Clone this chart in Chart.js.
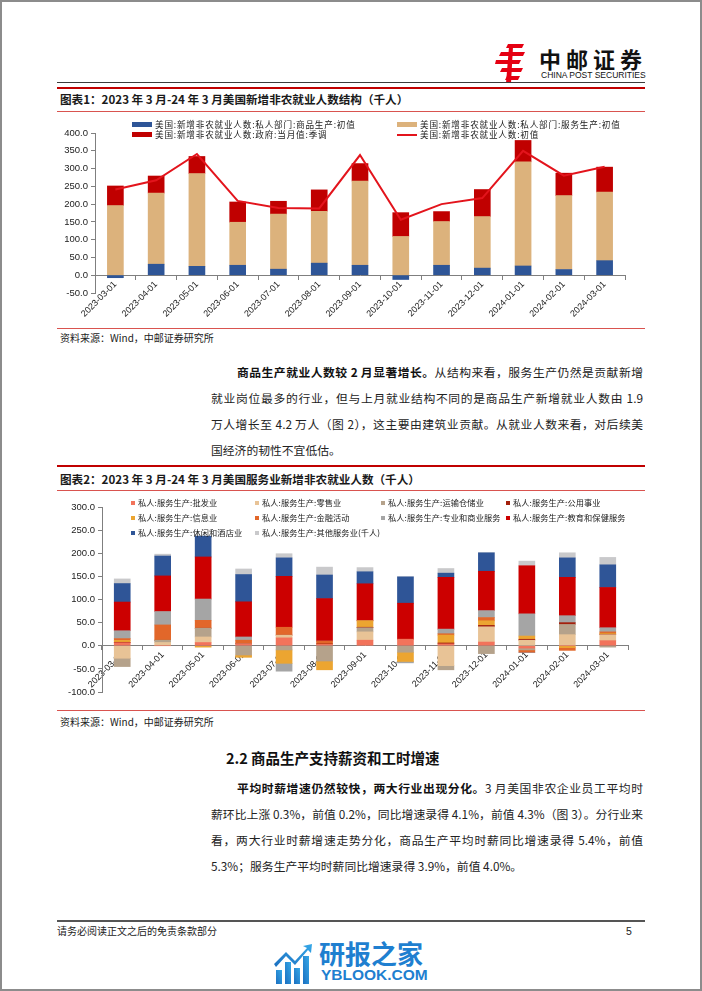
<!DOCTYPE html>
<html>
<head>
<meta charset="utf-8">
<title>美国新增非农就业人数结构</title>
<script src="https://cdn.jsdelivr.net/npm/chart.js"></script>
<style>
html, body { margin: 0; padding: 0; background: #fff; }
body { width: 702px; height: 991px; position: relative; overflow: hidden;
  font-family: "Noto Sans CJK SC", sans-serif; color: #1a1a1a; }
.frame { position: absolute; left: 0; top: 0; width: 698px; height: 987px; border: 2px solid #8c8c8c; pointer-events: none; }
.abs { position: absolute; white-space: nowrap; }
.hline { position: absolute; left: 57px; width: 588px; }
.title { left: 60px; font-size: 11.6px; font-weight: 700; line-height: 14px; }
.source { left: 60px; font-size: 10px; line-height: 12px; color: #222; }
.para { position: absolute; left: 211px; width: 432px; font-size: 11.8px; color: #222; }
.para div { height: 26px; line-height: 26px; white-space: nowrap; text-align: justify; text-align-last: justify; }
.para div.last { text-align-last: left; }
.para div.first { padding-left: 26px; }
.para b { font-weight: 700; color: #111; }
.chartbox { position: absolute; left: 57px; }
.legend { position: absolute; left: 0; top: 0; width: 702px; height: 0; }
.legend .item { position: absolute; line-height: 10px; white-space: nowrap; color: #222; }
#legend1 .item { font-size: 8.6px; letter-spacing: 0.8px; }
#legend2 .item { font-size: 8.2px; letter-spacing: 0.1px; }
.legend .mark { display: inline-block; vertical-align: middle; margin-right: 3px; position: relative; top: -1px; }
</style>
</head>
<body>

<!-- header -->
<svg class="abs" style="left:495px;top:44px" width="30" height="39" viewBox="0 0 30 39">
  <g fill="#e50012">
    <polygon points="13,0 29,0 27,4 11,4"/>
    <polygon points="6,8 30,8 28,12 4,12"/>
    <polygon points="1,16 26,16 24,20 0,20"/>
    <polygon points="14,3 18,3 16,39 11,39"/>
    <polygon points="7,24 28,24 26,28 5,28"/>
    <polygon points="12,32 25,32 23,36 10,36"/>
  </g>
</svg>
<div class="abs" style="left:539px;top:45px;font-size:22px;font-weight:700;letter-spacing:5px;line-height:26px;color:#111">中邮证券</div>
<div class="abs" style="left:541px;top:70px;font-family:'Liberation Sans',Arial,sans-serif;font-size:8.5px;line-height:10px;color:#111">CHINA POST SECURITIES</div>
<div class="hline" style="top:82px;height:1px;background:#3c3c3c"></div>
<div class="hline" style="top:87px;height:2px;background:#c00000"></div>

<div class="abs title" style="top:92px">图表1：2023 年 3 月-24 年 3 月美国新增非农就业人数结构（千人）</div>
<div class="hline" style="top:111px;height:1px;background:#d9534f"></div>

<div class="chartbox" style="top:113px"><canvas id="chart1" width="590" height="212"></canvas></div>
<div class="legend" id="legend1"></div>

<div class="hline" style="top:328px;height:1px;background:#d9534f"></div>
<div class="abs source" style="top:332px">资料来源：Wind，中邮证券研究所</div>

<div class="para" style="top:359px">
  <div class="first"><b>商品生产就业人数较 2 月显著增长。</b>从结构来看，服务生产仍然是贡献新增</div>
  <div>就业岗位最多的行业，但与上月就业结构不同的是商品生产新增就业人数由 1.9</div>
  <div>万人增长至 4.2 万人（图 2），这主要由建筑业贡献。从就业人数来看，对后续美</div>
  <div class="last">国经济的韧性不宜低估。</div>
</div>

<div class="hline" style="top:465px;height:2px;background:#c00000"></div>
<div class="abs title" style="top:472px">图表2：2023 年 3 月-24 年 3 月美国服务业新增非农就业人数（千人）</div>
<div class="hline" style="top:490px;height:1px;background:#d9534f"></div>

<div class="chartbox" style="top:493px"><canvas id="chart2" width="590" height="217"></canvas></div>
<div class="legend" id="legend2"></div>

<div class="hline" style="top:710px;height:1px;background:#d9534f"></div>
<div class="abs source" style="top:716px">资料来源：Wind，中邮证券研究所</div>

<div class="abs" style="left:226px;top:749px;font-size:14.5px;font-weight:700;line-height:18px;color:#111">2.2 商品生产支持薪资和工时增速</div>

<div class="para" style="top:775px">
  <div class="first"><b>平均时薪增速仍然较快，两大行业出现分化。</b>3 月美国非农企业员工平均时</div>
  <div>薪环比上涨 0.3%，前值 0.2%，同比增速录得 4.1%，前值 4.3%（图 3）。分行业来</div>
  <div>看，两大行业时薪增速走势分化，商品生产平均时薪同比增速录得 5.4%，前值</div>
  <div class="last">5.3%；服务生产平均时薪同比增速录得 3.9%，前值 4.0%。</div>
</div>

<!-- footer -->
<div class="hline" style="top:920px;height:2px;background:#555"></div>
<div class="abs" style="left:57px;top:925px;font-size:10px;line-height:12px;color:#222">请务必阅读正文之后的免责条款部分</div>
<div class="abs" style="left:626px;top:925px;font-family:'Liberation Sans',Arial,sans-serif;font-size:10.5px;line-height:12px;color:#222">5</div>

<svg class="abs" style="left:274px;top:944px" width="40" height="40" viewBox="0 0 40 40">
  <defs><linearGradient id="wg" x1="0" y1="1" x2="1" y2="0"><stop offset="0" stop-color="#1b6fc0"/><stop offset="1" stop-color="#35a8e8"/></linearGradient></defs>
  <g fill="url(#wg)">
    <rect x="2" y="26" width="6" height="14"/>
    <rect x="11" y="18" width="6" height="22"/>
    <rect x="20" y="24" width="6" height="16"/>
    <rect x="29" y="12" width="6" height="28"/>
    <polygon points="0,20 12,8 21,17 33,4 29,2 38,0 37,9 34,6 21,21 12,12 2,23"/>
  </g>
</svg>
<div class="abs" style="left:319px;top:938px;font-size:26px;font-weight:700;line-height:30px;color:#1f7fd0">研报之家</div>
<div class="abs" style="left:321px;top:966px;font-family:'Liberation Sans',Arial,sans-serif;font-size:15.5px;font-weight:700;line-height:18px;color:#1f7fd0">YBLOOK.COM</div>

<div class="frame"></div>

<script>
// ---- data: 千人 ----
const months = ['2023-03-01', '2023-04-01', '2023-05-01', '2023-06-01', '2023-07-01', '2023-08-01', '2023-09-01',
  '2023-10-01', '2023-11-01', '2023-12-01', '2024-01-01', '2024-02-01', '2024-03-01'];

// chart 1
const goodsInit    = [-7, 31, 25, 28, 17, 34, 28, -12, 28, 20, 26, 16, 41];
const servicesInit = [196, 200, 261, 121, 155, 146, 237, 109, 123, 145, 293, 208, 193];
const govSa        = [55, 48, 48, 57, 36, 60, 49, 67, 28, 76, 60, 63, 70];
const totalInit    = [241, 267, 341, 209, 189, 188, 338, 156, 200, 217, 350, 280, 305];
const chart1Ticks  = { min: -50, max: 400, step: 50 };

// chart 2
const wholesale    = [6.5, 0, 7, 4, 17, 3, 12, 14, 4, 8, -5, 0, 11];
const retail       = [-27, 7, 12, 0, 6, 0, 18, 0, -43, 33, 12, 24, 13];
const transport    = [-18, 5, 19, -20, -9, -33, 9, -14, -9, -17, -4, 22, -3];
const utilities    = [1, 0, 0, 1, 0, 1, 1, 0, 2, 3, 2, 4, 1];
const information  = [4, 0, -3, -5, -29, -19, 14, -20, 17, 10, 7, -4, 2];
const financial    = [4, 33, 17, 7, 17, 6, 0, 0, 3, 7, -5, -6, 3];
const professional = [17, 29, 46, 7, -17, 0, 0, -3, 10, 15, 48, 15, 9];
const eduHealth    = [62, 77, 91, 76, 110, 92, 80, 78, 112, 85, 104, 83, 87];
const leisure      = [40, 43, 45, 59, 40, 51, 26, 57, 9, 40, 0, 42, 49];
const otherSvc     = [10, 4, 0, 12, 9, 17, 9, 0, 10, 0, 10, 11, 16];
const chart2Ticks  = { min: -100, max: 300, step: 50 };

const chart1Series = [
  { label: '美国:新增非农就业人数:私人部门:商品生产:初值', data: goodsInit, color: '#2e5597' },
  { label: '美国:新增非农就业人数:私人部门:服务生产:初值', data: servicesInit, color: '#dcb27c' },
  { label: '美国:新增非农就业人数:政府:当月值:季调', data: govSa, color: '#c00000' }
];
const chart1Line = { label: '美国:新增非农就业人数:初值', data: totalInit, color: '#e3141c' };

const chart2Series = [
  { label: '私人:服务生产:批发业', data: wholesale, color: '#f2735b' },
  { label: '私人:服务生产:零售业', data: retail, color: '#e8c396' },
  { label: '私人:服务生产:运输仓储业', data: transport, color: '#b5a28b' },
  { label: '私人:服务生产:公用事业', data: utilities, color: '#a3200c' },
  { label: '私人:服务生产:信息业', data: information, color: '#eca531' },
  { label: '私人:服务生产:金融活动', data: financial, color: '#e2672a' },
  { label: '私人:服务生产:专业和商业服务', data: professional, color: '#a5a5a5' },
  { label: '私人:服务生产:教育和保健服务', data: eduHealth, color: '#cc0000' },
  { label: '私人:服务生产:休闲和酒店业', data: leisure, color: '#2f5597' },
  { label: '私人:服务生产:其他服务业(千人)', data: otherSvc, color: '#c9c9cb' }
];

// ---- helpers ----
const axisColor = '#7f7f7f';
const tickFont = { family: "'Liberation Sans', Arial, sans-serif", size: 9.5 };

function scales(t, yWidth) {
  return {
    x: {
      type: 'category', stacked: true, offset: true, position: { y: 0 },
      grid: { display: true, drawOnChartArea: false, drawTicks: true, tickLength: 4, offset: true, color: axisColor },
      border: { display: true, color: axisColor, width: 1 },
      ticks: { autoSkip: false, minRotation: 45, maxRotation: 45, padding: 0, color: '#222',
        font: { family: tickFont.family, size: 9 } }
    },
    y: {
      stacked: true, min: t.min, max: t.max,
      grid: { drawOnChartArea: false, drawTicks: true, tickLength: 4, color: axisColor },
      border: { display: true, color: axisColor, width: 1 },
      ticks: { stepSize: t.step, padding: 3, color: '#222', font: tickFont, callback: v => v.toFixed(1) },
      afterFit: s => { s.width = yWidth; }
    }
  };
}

function baseOptions(t, yWidth, pad) {
  return {
    responsive: false, animation: false,
    layout: { padding: pad },
    plugins: { legend: { display: false }, tooltip: { enabled: false } },
    scales: scales(t, yWidth)
  };
}

function legend(hostId, items, slots) {
  const host = document.getElementById(hostId);
  items.forEach((it, i) => {
    const s = slots[i];
    const d = document.createElement('div');
    d.className = 'item';
    d.style.left = s.left + 'px';
    d.style.top = (s.top - 5) + 'px';
    const m = document.createElement('span');
    m.className = 'mark';
    m.style.width = s.w + 'px';
    m.style.height = s.h + 'px';
    m.style.background = it.color;
    d.appendChild(m);
    d.appendChild(document.createTextNode(it.label));
    host.appendChild(d);
  });
}

// ---- chart 1 ----
new Chart(document.getElementById('chart1'), {
  data: {
    labels: months,
    datasets: [
      ...chart1Series.map(s => ({ type: 'bar', label: s.label, data: s.data, backgroundColor: s.color,
        barThickness: 16, order: 1 })),
      { type: 'line', label: chart1Line.label, data: chart1Line.data, borderColor: chart1Line.color,
        borderWidth: 2, pointRadius: 0, tension: 0, stack: 'total', order: 0 }
    ]
  },
  options: baseOptions(chart1Ticks, 38, { top: 20, right: 22, bottom: 32, left: 0 })
});

legend('legend1', [...chart1Series, chart1Line], [
  { left: 132, top: 124, w: 20, h: 5 }, { left: 397, top: 124, w: 20, h: 5 },
  { left: 132, top: 134, w: 20, h: 5 }, { left: 397, top: 134, w: 20, h: 2 }
]);

// ---- chart 2 ----
new Chart(document.getElementById('chart2'), {
  type: 'bar',
  data: {
    labels: months,
    datasets: chart2Series.map(s => ({ label: s.label, data: s.data, backgroundColor: s.color, barThickness: 16 }))
  },
  options: baseOptions(chart2Ticks, 45, { top: 14, right: 19, bottom: 18, left: 0 })
});

const cols2 = [131, 255, 381, 506];
const rows2 = [502, 517, 532];
legend('legend2', chart2Series, chart2Series.map((s, i) => ({
  left: cols2[i % 4], top: rows2[Math.floor(i / 4)], w: 4, h: 4
})));
</script>
</body>
</html>
